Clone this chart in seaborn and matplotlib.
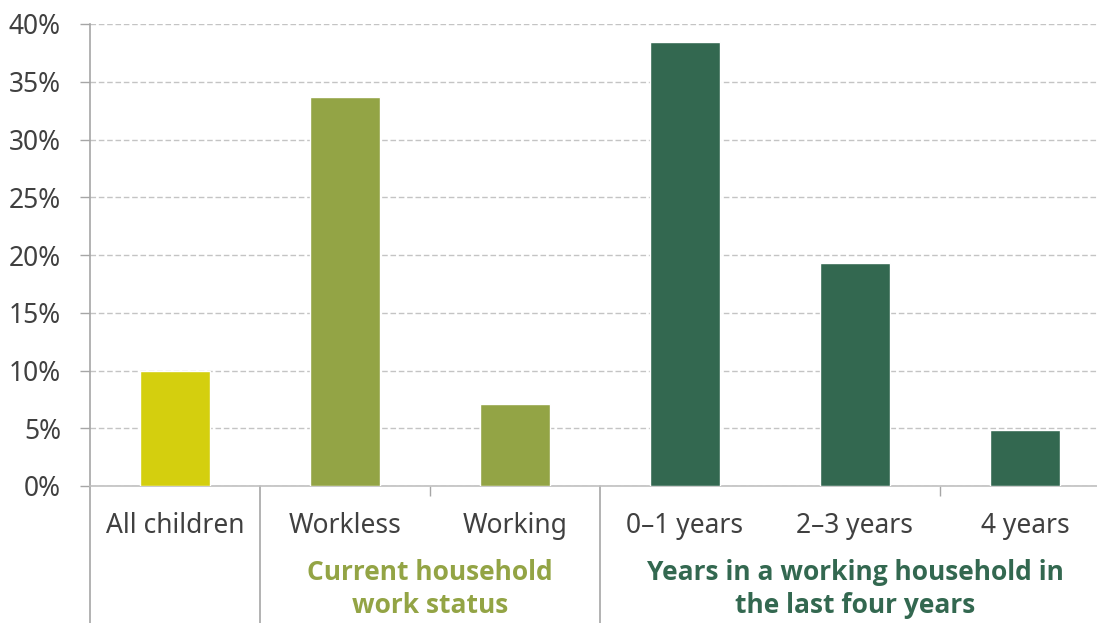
import matplotlib
matplotlib.use("Agg")
import matplotlib.pyplot as plt
import seaborn as sns
import pandas as pd
from matplotlib.ticker import FuncFormatter
from matplotlib import font_manager

# Share of children in each household type (%)
categories = ["All children", "Workless", "Working", "0–1 years", "2–3 years", "4 years"]
shares = [10.0, 33.7, 7.1, 38.4, 19.3, 4.85]
groups = ["all", "status", "status", "years", "years", "years"]
group_titles = ["Current household\nwork status", "Years in a working household in\nthe last four years"]
y_ticks = [0, 5, 10, 15, 20, 25, 30, 35, 40]

palette = {"all": "#d4cf0e", "status": "#93a445", "years": "#336850"}
title_colors = ["#93a445", "#336850"]

sns.set_theme(style="white")
plt.rcParams["font.family"] = ["Noto Sans", "DejaVu Sans"]

# Pick a family that actually ships a bold face for the group titles
bold_family = "DejaVu Sans"
for fam in ("Noto Sans", "Open Sans", "Lato", "Roboto"):
    try:
        path = font_manager.findfont(font_manager.FontProperties(family=fam, weight="bold"),
                                     fallback_to_default=False)
        if "bold" in path.lower():
            bold_family = fam
            break
    except Exception:
        pass

W, H = 1097, 623
fig = plt.figure(figsize=(W / 100, H / 100), dpi=100)
ax = fig.add_axes([90 / W, (H - 486) / H, (1110 - 90) / W, (486 - 24) / H])

df = pd.DataFrame({"category": categories, "share": shares, "group": groups})
sns.barplot(data=df, x="category", y="share", hue="group", palette=palette,
            dodge=False, width=0.41, saturation=1, legend=False, ax=ax, zorder=3)

ax.set_xlim(-0.5, 5.5)
ax.set_ylim(0, 40)
ax.set_yticks(y_ticks)
ax.yaxis.set_major_formatter(FuncFormatter(lambda v, _: f"{v:.0f}%"))
ax.set_xlabel("")
ax.set_ylabel("")

ax.set_axisbelow(True)
ax.yaxis.grid(True, linestyle=(0, (4, 2)), color="#c4c4c4", linewidth=1)
ax.xaxis.grid(False)

for side in ("top", "right"):
    ax.spines[side].set_visible(False)
ax.spines["left"].set_color("#a6a6a6")
ax.spines["bottom"].set_color("#c0c0c0")
ax.spines["left"].set_linewidth(1.2)
ax.spines["bottom"].set_linewidth(1.2)

label_color = "#404040"
fs = 19
ax.tick_params(axis="y", left=True, length=7, width=1, color="#a6a6a6",
               labelsize=fs, labelcolor=label_color, pad=14)
ax.tick_params(axis="x", which="major", bottom=False, length=0,
               labelsize=fs, labelcolor=label_color, pad=19)
ax.set_xticks([1.5, 4.5], minor=True)
ax.tick_params(axis="x", which="minor", bottom=True, length=7, width=1, color="#a6a6a6")

# Group separators running down through the label area
depth = -(H - 486) / (486 - 24)
for x in (-0.5, 0.5, 2.5):
    ax.plot([x, x], [0, depth], transform=ax.get_xaxis_transform(),
            clip_on=False, color="#a6a6a6", linewidth=1.2)

# Group titles beneath the category labels
for xc, title, col in zip((1.5, 4.0), group_titles, title_colors):
    ax.text(xc, -103 / 462, title, transform=ax.get_xaxis_transform(),
            ha="center", va="center", fontsize=fs, fontweight="bold",
            family=[bold_family, "DejaVu Sans"], color=col, linespacing=1.3)

fig.savefig("out.png", dpi=100)
